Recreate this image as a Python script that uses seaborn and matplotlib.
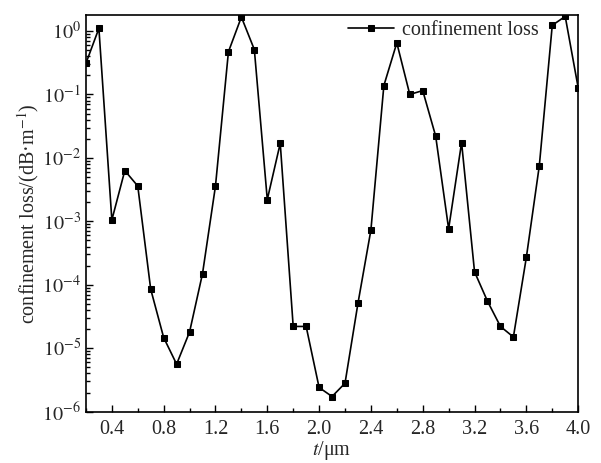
import numpy as np
import pandas as pd
import matplotlib
matplotlib.use("Agg")
import matplotlib.pyplot as plt
import seaborn as sns
from matplotlib.ticker import LogLocator, MultipleLocator, FuncFormatter, NullFormatter

t_um = [0.2, 0.3, 0.4, 0.5, 0.6, 0.7, 0.8, 0.9, 1.0, 1.1, 1.2, 1.3, 1.4, 1.5, 1.6,
        1.7, 1.8, 1.9, 2.0, 2.1, 2.2, 2.3, 2.4, 2.5, 2.6, 2.7, 2.8, 2.9, 3.0, 3.1,
        3.2, 3.3, 3.4, 3.5, 3.6, 3.7, 3.8, 3.9, 4.0]
loss = [0.31, 1.1, 1.05e-3, 6.3e-3, 3.6e-3, 8.5e-5, 1.47e-5, 5.6e-6, 1.8e-5, 1.5e-4,
        3.6e-3, 0.47, 1.66, 0.51, 2.2e-3, 0.017, 2.2e-5, 2.2e-5, 2.4e-6, 1.73e-6,
        2.8e-6, 5.1e-5, 7.3e-4, 0.138, 0.65, 0.10, 0.115, 0.022, 7.6e-4, 0.0174,
        1.6e-4, 5.5e-5, 2.2e-5, 1.5e-5, 2.7e-4, 7.5e-3, 1.23, 1.7, 0.128]
series_name = "confinement loss"

df = pd.DataFrame({"t": t_um, "loss": loss, "series": series_name})

sns.set_theme(style="ticks")
plt.rcParams["font.family"] = ["Liberation Serif", "DejaVu Serif"]
plt.rcParams["mathtext.fontset"] = "stix"

FS = 14.5
fig, ax = plt.subplots(figsize=(6.01, 4.63), dpi=100)
sns.lineplot(data=df, x="t", y="loss", hue="series", palette=["black"], marker="s",
             markersize=4.5, markeredgecolor="black", linewidth=1.2, ax=ax, clip_on=True)
ax.set_yscale("log")
ax.set_xlim(0.2, 4.0)
ax.set_ylim(1e-6, 1.8)

ax.xaxis.set_major_locator(MultipleLocator(0.4))
ax.xaxis.set_minor_locator(MultipleLocator(0.2))
ax.xaxis.set_major_formatter(FuncFormatter(lambda v, p: f"{v:.1f}"))
ax.yaxis.set_major_locator(LogLocator(base=10, numticks=10))
ax.yaxis.set_minor_locator(LogLocator(base=10, subs=np.arange(2, 10), numticks=20))
ax.yaxis.set_minor_formatter(NullFormatter())
ax.yaxis.set_major_formatter(FuncFormatter(lambda v, p: r"$10^{%d}$" % round(np.log10(v))))

ax.tick_params(which="both", direction="in", top=False, right=False, labelsize=FS, color="black")
ax.tick_params(axis="x", which="major", pad=6)
ax.tick_params(which="major", length=5, width=1)
ax.tick_params(which="minor", length=3, width=1)
for s in ax.spines.values():
    s.set_linewidth(1.2)
    s.set_color("black")

ax.set_xlabel(r"$t$/μm", fontsize=FS, labelpad=0)
ax.set_ylabel(r"confinement loss/(dB·m$^{-1}$)", fontsize=FS, labelpad=1)

leg = ax.legend(loc="center left", bbox_to_anchor=(0.532, 0.961), frameon=False, fontsize=FS,
                handlelength=2.3, handletextpad=0.4, borderpad=0, borderaxespad=0, title=None)

fig.subplots_adjust(left=0.143, right=0.962, top=0.968, bottom=0.111)
fig.savefig("out.png", dpi=100)
